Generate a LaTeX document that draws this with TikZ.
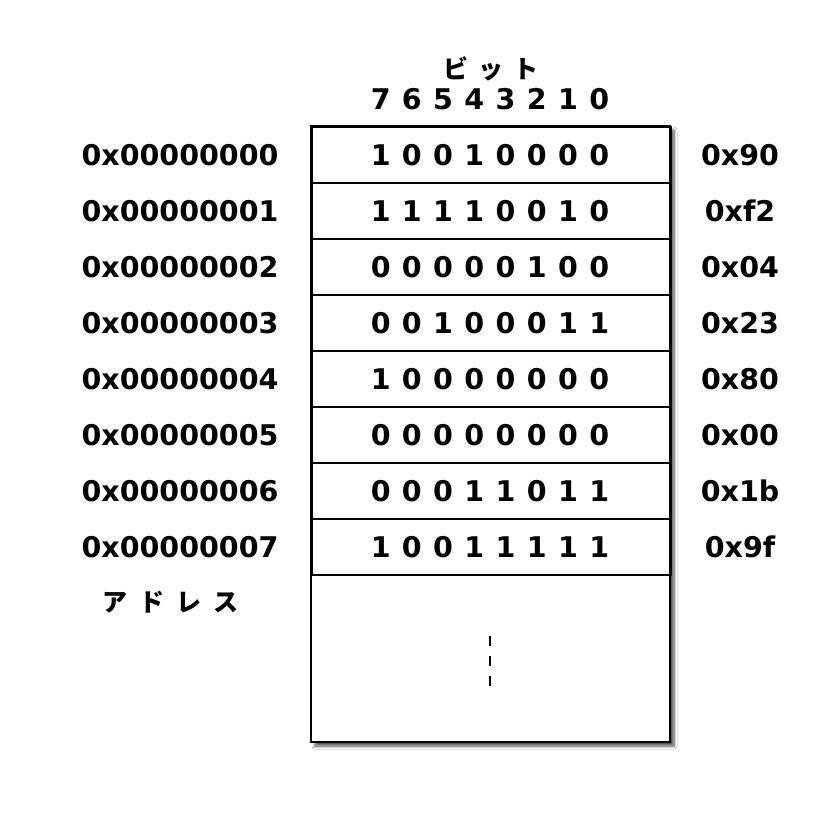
\documentclass[tikz,border=0pt]{standalone}
\usepackage{fontspec}
\setmainfont{DejaVu Sans}
\newfontfamily\cjk{Noto Sans CJK JP}
\usetikzlibrary{shadows.blur}
\newcommand\widespc{\spaceskip=11.4pt\relax}
\begin{document}
\begin{tikzpicture}[x=1pt,y=-1pt,
  txt/.style={font=\fontsize{28.5}{32}\selectfont\bfseries, inner sep=0},
  jtxt/.style={font=\cjk\fontsize{25}{30}\selectfont\bfseries, inner sep=0},
  cell/.style={draw, line width=1.5pt, minimum width=359pt, minimum height=56pt, inner sep=0, anchor=north west},
  outerbox/.style={draw, line width=1.5pt, fill=white, blur shadow={shadow xshift=4pt, shadow yshift=-4pt, shadow blur steps=6, shadow blur radius=3pt, shadow opacity=70}}]
\useasboundingbox (0,0) rectangle (820,812);
\fill[white] (0,0) rectangle (820,812);
\draw[outerbox] (311,126) rectangle (670,742);
\coordinate (dtop) at (490,636);
\coordinate (dbot) at (490,688);
\foreach \i/\addr/\bits/\hex in {0/0x00000000/1 0 0 1 0 0 0 0/0x90,
  1/0x00000001/1 1 1 1 0 0 1 0/0xf2,
  2/0x00000002/0 0 0 0 0 1 0 0/0x04,
  3/0x00000003/0 0 1 0 0 0 1 1/0x23,
  4/0x00000004/1 0 0 0 0 0 0 0/0x80,
  5/0x00000005/0 0 0 0 0 0 0 0/0x00,
  6/0x00000006/0 0 0 1 1 0 1 1/0x1b,
  7/0x00000007/1 0 0 1 1 1 1 1/0x9f} {
  \node[cell] (r\i) at (311,126+56*\i) {};
  \node[txt] (b\i) at (490,155+56*\i) {\widespc\bits};
  \node[txt] (a\i) at (180,155+56*\i) {\addr};
  \node[txt] (h\i) at (740,155+56*\i) {\hex};
}
\node[txt] (bitnums) at (490,99) {\widespc 7 6 5 4 3 2 1 0};
\node[jtxt] (bitlabel) at (491,69) {ビ\hspace{10pt}ッ\hspace{10pt}ト};
\node[jtxt] (addrlabel) at (170,602) {ア\hspace{12pt}ド\hspace{12pt}レ\hspace{12pt}ス};
\draw[line width=1.5pt, dash pattern=on 10pt off 10pt] (dtop) -- (dbot);
\end{tikzpicture}
\end{document}
